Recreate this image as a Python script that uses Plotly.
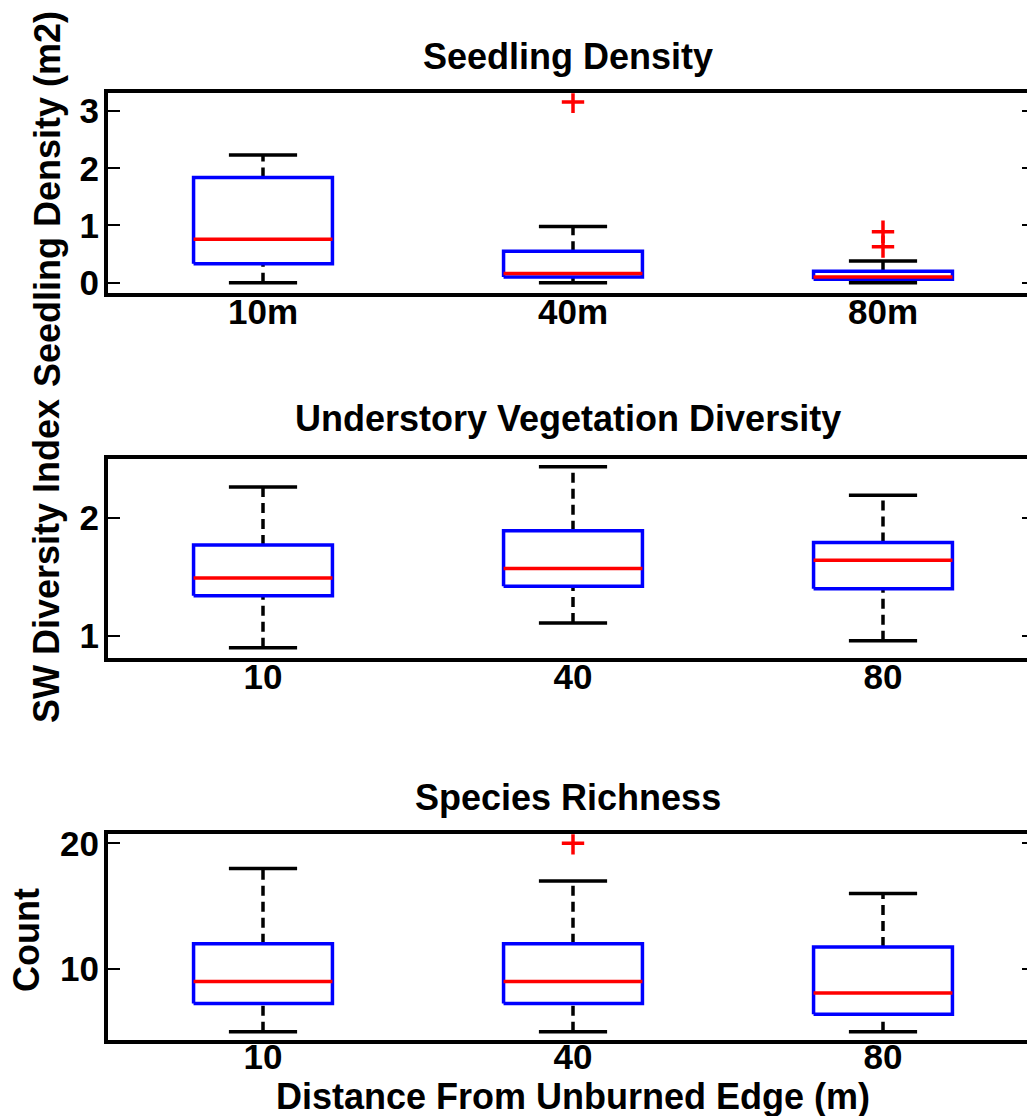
import plotly.graph_objects as go

# ---- data: MATLAB-style boxplot statistics per distance class ----
seed_labels = ["10m", "40m", "80m"]
dist_labels = ["10", "40", "80"]

seed_low = [0.0, 0.0, 0.0]
seed_q1 = [0.33, 0.10, 0.06]
seed_med = [0.76, 0.16, 0.10]
seed_q3 = [1.84, 0.55, 0.20]
seed_high = [2.23, 0.98, 0.38]
seed_out = [[], [3.16], [0.89, 0.63]]

div_low = [0.90, 1.11, 0.96]
div_q1 = [1.34, 1.42, 1.40]
div_med = [1.49, 1.57, 1.64]
div_q3 = [1.77, 1.89, 1.79]
div_high = [2.26, 2.43, 2.19]
div_out = [[], [], []]

rich_low = [5, 5, 5]
rich_q1 = [7.25, 7.25, 6.4]
rich_med = [9, 9, 8.1]
rich_q3 = [12, 12, 11.75]
rich_high = [18, 17, 16]
rich_out = [[], [20], []]

panel_titles = ["Seedling Density", "Understory Vegetation Diversity", "Species Richness"]
y_titles = ["Seedling Density (m2)", "SW Diversity Index", "Count"]
y_tickvals = [[0, 1, 2, 3], [1, 2], [10, 20]]
y_ranges = [[-0.175, 3.31], [0.811, 2.494], [4.35, 20.72]]

W, H = 1027, 1116
FONT = "Liberation Sans, Arial, Helvetica, sans-serif"
BOX_HALF = 0.224
CAP_HALF = 0.11
LW = 3.5

fig = go.Figure()


def add_panel(k, low, q1, med, q3, high, out):
    xa, ya = f"x{k}" if k > 1 else "x", f"y{k}" if k > 1 else "y"
    for i in range(3):
        c = i + 1
        # dashed whiskers
        for seg in ([q3[i], high[i]], [low[i], q1[i]]):
            fig.add_trace(go.Scatter(x=[c, c], y=seg, mode="lines", xaxis=xa, yaxis=ya,
                                     line=dict(color="black", width=LW, dash="10px,6px"),
                                     hoverinfo="skip", showlegend=False))
        # whisker caps
        for v in (high[i], low[i]):
            fig.add_trace(go.Scatter(x=[c - CAP_HALF, c + CAP_HALF], y=[v, v], mode="lines",
                                     xaxis=xa, yaxis=ya, line=dict(color="black", width=LW),
                                     hoverinfo="skip", showlegend=False))
        # box
        fig.add_trace(go.Scatter(x=[c - BOX_HALF, c + BOX_HALF, c + BOX_HALF, c - BOX_HALF, c - BOX_HALF],
                                 y=[q1[i], q1[i], q3[i], q3[i], q1[i]], mode="lines",
                                 xaxis=xa, yaxis=ya, line=dict(color="#0000ff", width=LW),
                                 hoverinfo="skip", showlegend=False))
        # median
        fig.add_trace(go.Scatter(x=[c - BOX_HALF, c + BOX_HALF], y=[med[i], med[i]], mode="lines",
                                 xaxis=xa, yaxis=ya, line=dict(color="#ff0000", width=LW),
                                 hoverinfo="skip", showlegend=False))
        # outliers
        if out[i]:
            fig.add_trace(go.Scatter(x=[c] * len(out[i]), y=out[i], mode="markers",
                                     xaxis=xa, yaxis=ya,
                                     marker=dict(symbol="cross-thin", size=16,
                                                 line=dict(color="#ff0000", width=3.5)),
                                     hoverinfo="skip", showlegend=False))
    # placeholder trace for the right-hand tick axis
    fig.add_trace(go.Scatter(x=[None], y=[None], xaxis=xa, yaxis=f"y{k + 3}",
                             hoverinfo="skip", showlegend=False))


add_panel(1, seed_low, seed_q1, seed_med, seed_q3, seed_high, seed_out)
add_panel(2, div_low, div_q1, div_med, div_q3, div_high, div_out)
add_panel(3, rich_low, rich_q1, rich_med, rich_q3, rich_high, rich_out)

# axes geometry (pixels from the top of the page)
panel_px = [(93.3, 292.7), (459.3, 658.3), (834.3, 1040.0)]
x_dom = [108 / W, 1.0]
x_range = [0.5, 3.5 - 11 / 310]

tick_font = dict(family=FONT, size=35, weight="bold", color="black")
layout = dict(width=W, height=H, margin=dict(l=0, r=0, t=0, b=0, autoexpand=False),
              paper_bgcolor="white", plot_bgcolor="white", showlegend=False,
              font=dict(family=FONT, color="black"))

for k in range(1, 4):
    top, bot = panel_px[k - 1]
    ydom = [1 - bot / H, 1 - top / H]
    sx = "" if k == 1 else str(k)
    labels = seed_labels if k == 1 else dist_labels
    layout[f"xaxis{sx}"] = dict(domain=x_dom, range=x_range, anchor=f"y{sx}",
                                tickvals=[1, 2, 3], ticktext=labels, ticks="",
                                ticklabelstandoff=-17 if k == 3 else -15,
                                showline=True, linecolor="black", linewidth=4, mirror=True,
                                showgrid=False, zeroline=False, fixedrange=True,
                                automargin=False, tickfont=tick_font)
    layout[f"yaxis{sx}"] = dict(domain=ydom, range=y_ranges[k - 1], anchor=f"x{sx}",
                                tickvals=y_tickvals[k - 1], ticks="inside", ticklen=12,
                                tickwidth=2, tickcolor="black", ticklabelstandoff=-2,
                                showline=True, linecolor="black", linewidth=4, mirror=False,
                                showgrid=False, zeroline=False, fixedrange=True,
                                automargin=False, tickfont=tick_font)
    layout[f"yaxis{k + 3}"] = dict(overlaying=f"y{sx}", side="right", anchor=f"x{sx}",
                                   range=y_ranges[k - 1], tickvals=y_tickvals[k - 1],
                                   ticks="inside", ticklen=5, tickwidth=2, tickcolor="black",
                                   showticklabels=False, showline=False, showgrid=False,
                                   zeroline=False, fixedrange=True, automargin=False)

fig.update_layout(**layout)

title_font = dict(family=FONT, size=36, weight="bold", color="black")
# panel titles
for t, ypx in zip(panel_titles, [56, 419, 797]):
    fig.add_annotation(text=t, x=568 / W, y=1 - ypx / H, xref="paper", yref="paper",
                       showarrow=False, xanchor="center", yanchor="middle", font=title_font)
# y axis titles
for t, (xpx, ypx) in zip(y_titles, [(47, 199), (46, 561), (26, 940)]):
    fig.add_annotation(text=t, x=xpx / W, y=1 - ypx / H, xref="paper", yref="paper",
                       showarrow=False, xanchor="center", yanchor="middle",
                       textangle=-90, font=title_font)
# x axis title
fig.add_annotation(text="Distance From Unburned Edge (m)", x=573 / W, y=1 - 1096 / H,
                   xref="paper", yref="paper", showarrow=False,
                   xanchor="center", yanchor="middle", font=title_font)

fig.write_html("out.html")
